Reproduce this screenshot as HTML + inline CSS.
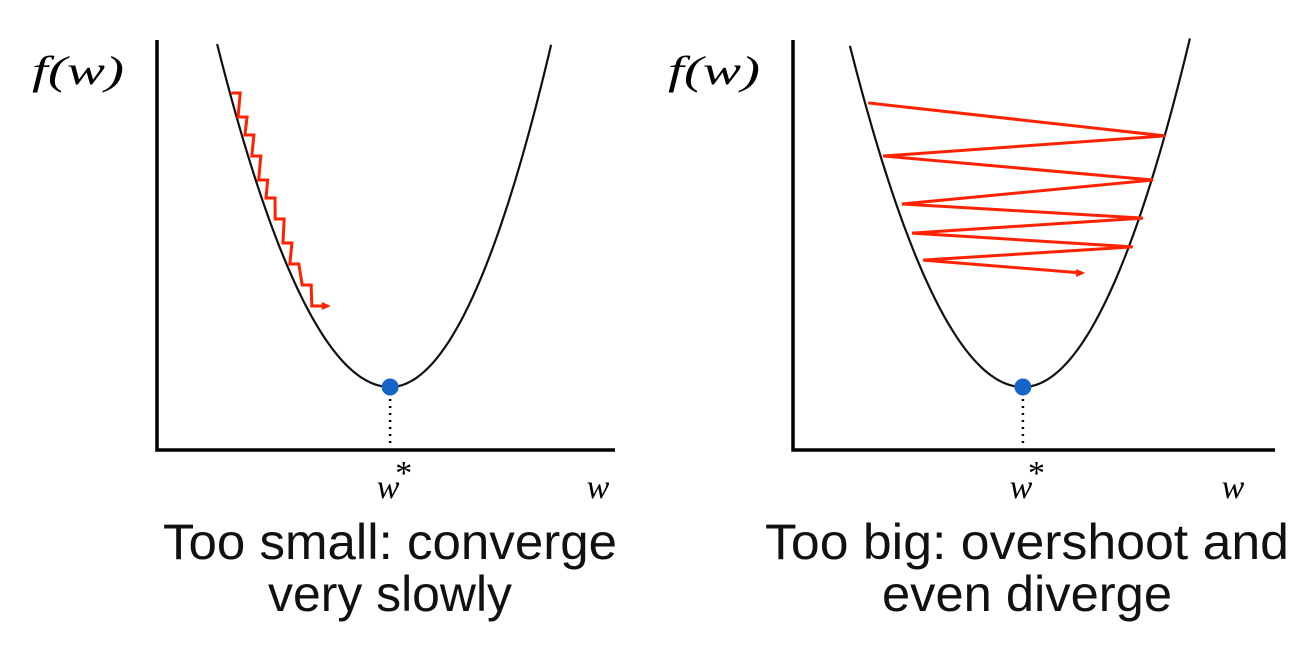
<!DOCTYPE html>
<html><head><meta charset="utf-8"><style>
html,body{margin:0;padding:0;background:#fff;}
svg{display:block;}
.lbl{font-family:"Liberation Serif",serif;font-style:italic;font-size:34px;fill:#000;}
.fl{font-family:"Liberation Serif",serif;font-style:italic;font-size:40px;fill:#000;}
.cap{font-family:"Liberation Sans",sans-serif;font-size:50px;fill:#111;}
</style></head><body>
<svg id="chart" width="1299" height="645" viewBox="0 0 1299 645"></svg>
<script>
// Data
const leftIterW = [1.62,1.77,1.92,2.07,2.22,2.38,2.58,2.75,2.90,3.17,3.38];
const leftIterF = [9.8,9.0,8.4,7.7,6.9,6.3,5.6,4.8,4.1,3.4,2.7];
const rightIterW = [1.56,7.72,1.87,7.47,2.26,7.26,2.47,7.05,2.70,6.0];
const rightIterF = [9.47,8.37,7.7,6.9,6.1,5.63,5.13,4.67,4.23,3.8];
const leftMinW = 5.09;
const rightMinW = 4.77;

const NS='http://www.w3.org/2000/svg';
const svg=document.getElementById('chart');
function mk(tag,attrs,parent){const e=document.createElementNS(NS,tag);for(const k in attrs)e.setAttribute(k,attrs[k]);(parent||svg).appendChild(e);return e;}

function panel(x0,x1,pxPerW,minW,name,cL,cR){
  const g=mk('g',{});
  
  
  const xs=w=>x0+w*pxPerW;
  const ys=f=>387-f*30;
  const ax=mk('path',{d:`M${x0} 40 L${x0} 450 L${x1} 450`,fill:'none',stroke:'#000','stroke-width':3.5},g);
  
  
  const vx=xs(minW);
  let d='';
  for(let px=vx-175;px<=vx+170;px+=2){
    const dx=px-vx;const k=dx<0?cL:cR;
    const yv=387-k*dx*dx;
    if(yv<38)continue;
    d+=(d?'L':'M')+px.toFixed(1)+' '+yv.toFixed(1);
  }
  const c=mk('path',{d,fill:'none',stroke:'#111','stroke-width':2.2},g);
  
  
  const dl=mk('line',{x1:vx,y1:392,x2:vx,y2:448,stroke:'#000','stroke-width':2.5,'stroke-dasharray':'2 5'},g);
  
  
  const dot=mk('circle',{cx:vx,cy:387,r:8.5,fill:'#1565c8'},g);
  
  
  return {g,xs,ys,vx};
}

function arrowHead(g,x,y){
  const a=mk('path',{d:`M${x} ${y} L${x-9} ${y-4} L${x-9} ${y+4} Z`,fill:'#ff2200'},g);
  
  
}

const L=panel(157,615,45.8,leftMinW,'small-lr-panel',0.01146,0.0132);
let dL='';
for(let i=0;i<leftIterW.length;i++){
  const x=L.xs(leftIterW[i]),y=L.ys(leftIterF[i]);
  dL+=(i?'L':'M')+x+' '+y+' L'+(x+9)+' '+y+' ';
}
const lastL=leftIterW.length-1;
dL+='L'+(L.xs(leftIterW[lastL])+16)+' '+L.ys(leftIterF[lastL]);
const sp=mk('path',{d:dL,fill:'none',stroke:'#ff2200','stroke-width':3,'stroke-linejoin':'miter'},L.g);


arrowHead(L.g,L.xs(leftIterW[lastL])+19,L.ys(leftIterF[lastL]));

const R=panel(793,1275,48.2,rightMinW,'big-lr-panel',0.0114,0.0125);
let dR='';
for(let i=0;i<rightIterW.length;i++){
  dR+=(i?'L':'M')+R.xs(rightIterW[i])+' '+R.ys(rightIterF[i])+' ';
}
const zp=mk('path',{d:dR,fill:'none',stroke:'#ff2200','stroke-width':3},R.g);


const n=rightIterW.length-1;
arrowHead(R.g,R.xs(rightIterW[n])+3,R.ys(rightIterF[n]));

function txt(x,y,s,cls,name,anchor,len){
  const t=mk('text',{x,y,class:cls,'text-anchor':anchor||'start'});
  if(len){t.setAttribute('textLength',len);t.setAttribute('lengthAdjust','spacingAndGlyphs');}
  t.textContent=s;
  
  
  return t;
}
txt(32,84,'f(w)','fl','left-y-label',null,92);
txt(668,84,'f(w)','fl','right-y-label',null,92);
txt(L.vx-2,498,'w','lbl','left-wstar-label','middle');
txt(L.vx+12,484,'*','lbl','left-wstar-sup','middle');
txt(R.vx-2,498,'w','lbl','right-wstar-label','middle');
txt(R.vx+12,484,'*','lbl','right-wstar-sup','middle');
txt(598,498,'w','lbl','left-x-label','middle');
txt(1233,498,'w','lbl','right-x-label','middle');
txt(390,559,'Too small: converge','cap','left-caption-line1','middle',454);
txt(390,611,'very slowly','cap','left-caption-line2','middle',244);
txt(1027,559,'Too big: overshoot and','cap','right-caption-line1','middle',524);
txt(1027,611,'even diverge','cap','right-caption-line2','middle',290);
</script>
</body></html>
